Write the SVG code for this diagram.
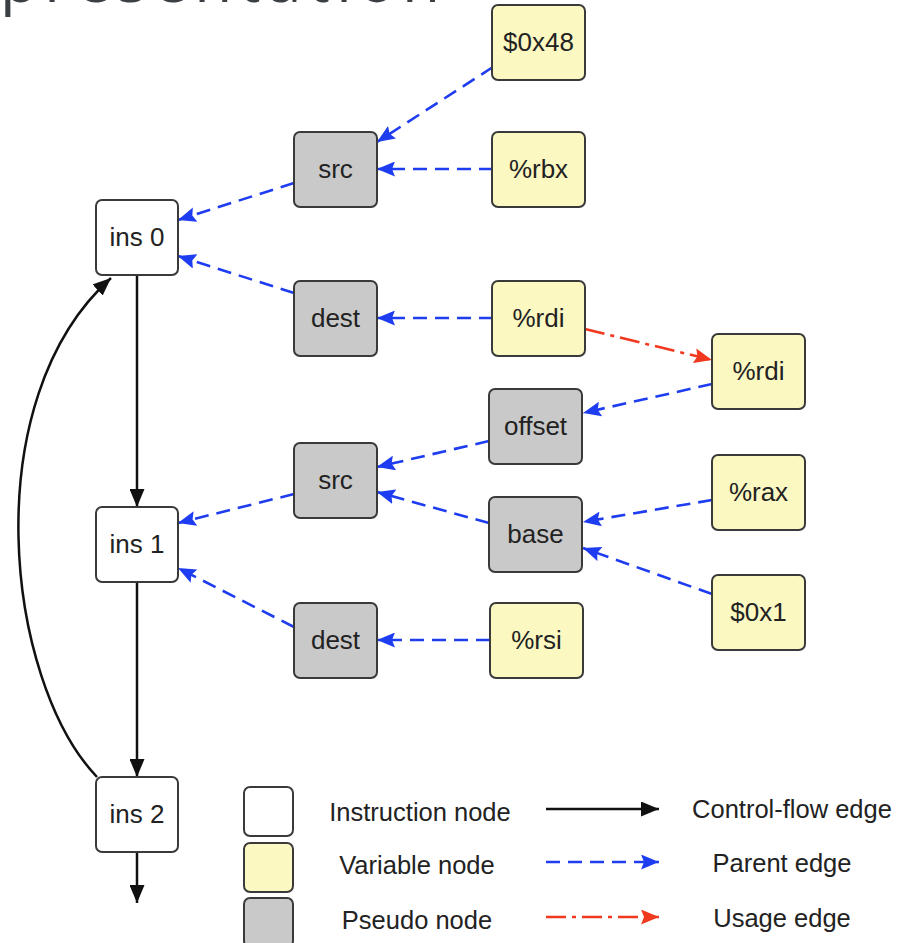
<svg xmlns="http://www.w3.org/2000/svg" width="904" height="943" viewBox="0 0 904 943">
  <defs>
    <style>
      .node rect { stroke: #3a3a3a; stroke-width: 2; }
      .ins rect { fill: #ffffff; }
      .var rect { fill: #fcf8c2; }
      .pse rect { fill: #c9c9c9; }
      .node text, .legend text { font-family: "Liberation Sans", Arial, sans-serif; font-size: 26px; fill: #222222; text-anchor: middle; }
      .legend text { font-size: 25.5px; }
      .cf { stroke: #111111; stroke-width: 2.5; fill: none; }
      .parent { stroke: #1e3cf0; stroke-width: 2.6; fill: none; stroke-dasharray: 14 8; }
      .usage { stroke: #f0391e; stroke-width: 2.6; fill: none; stroke-dasharray: 20 6 4 6; }
      .title { font-family: "Open Sans", "Noto Sans", sans-serif; font-size: 62px; fill: #3b3f44; }
    </style>
    <marker id="ahBlack" markerUnits="userSpaceOnUse" markerWidth="19" markerHeight="15" refX="18" refY="7.5" orient="auto">
      <path d="M0,0 L18,7.5 L0,15 z" fill="#111111"/>
    </marker>
    <marker id="ahBlue" markerUnits="userSpaceOnUse" markerWidth="19" markerHeight="15" refX="18" refY="7.5" orient="auto">
      <path d="M0,0 L18,7.5 L0,15 L3,7.5 z" fill="#1e3cf0"/>
    </marker>
    <marker id="ahRed" markerUnits="userSpaceOnUse" markerWidth="19" markerHeight="15" refX="18" refY="7.5" orient="auto">
      <path d="M0,0 L18,7.5 L0,15 L3,7.5 z" fill="#f0391e"/>
    </marker>
  </defs>

  <rect x="0" y="0" width="904" height="943" fill="#ffffff"/>

  <!-- heading of the slide, mostly above the frame -->
  <text class="title" x="0" y="2" textLength="440" lengthAdjust="spacing">presentation</text>

  <!-- connectors -->
  <g id="edges">
    <!-- control flow -->
    <path class="cf" d="M137 275 L137 507" marker-end="url(#ahBlack)"/>
    <path class="cf" d="M137 582 L137 777" marker-end="url(#ahBlack)"/>
    <path class="cf" d="M137 851 L137 903" marker-end="url(#ahBlack)"/>
    <path class="cf" d="M97 777 C5 680 -25 400 111 278" marker-end="url(#ahBlack)"/>

    <!-- parent edges -->
    <path class="parent" d="M493 67 L377 142" marker-end="url(#ahBlue)"/>
    <path class="parent" d="M493 169 L377 169" marker-end="url(#ahBlue)"/>
    <path class="parent" d="M294 183 L178 220" marker-end="url(#ahBlue)"/>
    <path class="parent" d="M294 293 L178 256" marker-end="url(#ahBlue)"/>
    <path class="parent" d="M493 318 L377 318" marker-end="url(#ahBlue)"/>
    <path class="parent" d="M712 384 L583 413" marker-end="url(#ahBlue)"/>
    <path class="parent" d="M489 441 L377 467" marker-end="url(#ahBlue)"/>
    <path class="parent" d="M489 523 L377 492" marker-end="url(#ahBlue)"/>
    <path class="parent" d="M712 500 L583 522" marker-end="url(#ahBlue)"/>
    <path class="parent" d="M712 594 L583 548" marker-end="url(#ahBlue)"/>
    <path class="parent" d="M294 494 L178 523" marker-end="url(#ahBlue)"/>
    <path class="parent" d="M294 627 L178 568" marker-end="url(#ahBlue)"/>
    <path class="parent" d="M490 640 L377 640" marker-end="url(#ahBlue)"/>

    <!-- usage edge -->
    <path class="usage" d="M585 329 L712 360" marker-end="url(#ahRed)"/>
  </g>

  <!-- instruction nodes -->
  <g id="ins0" class="node ins"><rect x="96" y="200" width="82" height="75" rx="6"/><text x="137" y="246">ins 0</text></g>
  <g id="ins1" class="node ins"><rect x="96" y="507" width="82" height="75" rx="6"/><text x="137" y="553">ins 1</text></g>
  <g id="ins2" class="node ins"><rect x="96" y="777" width="82" height="75" rx="6"/><text x="137" y="823">ins 2</text></g>

  <!-- pseudo nodes -->
  <g id="src0" class="node pse"><rect x="294" y="132" width="83" height="75" rx="6"/><text x="335.5" y="178">src</text></g>
  <g id="dest0" class="node pse"><rect x="294" y="281" width="83" height="75" rx="6"/><text x="335.5" y="327">dest</text></g>
  <g id="offset" class="node pse"><rect x="489" y="389" width="93" height="75" rx="6"/><text x="535.5" y="435">offset</text></g>
  <g id="src1" class="node pse"><rect x="294" y="443" width="83" height="75" rx="6"/><text x="335.5" y="489">src</text></g>
  <g id="base" class="node pse"><rect x="489" y="497" width="93" height="75" rx="6"/><text x="535.5" y="543">base</text></g>
  <g id="dest1" class="node pse"><rect x="294" y="603" width="83" height="75" rx="6"/><text x="335.5" y="649">dest</text></g>

  <!-- variable nodes -->
  <g id="imm48" class="node var"><rect x="492" y="5" width="93" height="75" rx="6"/><text x="538.5" y="51">$0x48</text></g>
  <g id="rbx" class="node var"><rect x="492" y="132" width="93" height="75" rx="6"/><text x="538.5" y="178">%rbx</text></g>
  <g id="rdi0" class="node var"><rect x="492" y="281" width="93" height="75" rx="6"/><text x="538.5" y="327">%rdi</text></g>
  <g id="rdi1" class="node var"><rect x="712" y="334" width="93" height="75" rx="6"/><text x="758.5" y="380">%rdi</text></g>
  <g id="rax" class="node var"><rect x="712" y="455" width="93" height="75" rx="6"/><text x="758.5" y="501">%rax</text></g>
  <g id="imm1" class="node var"><rect x="712" y="575" width="93" height="75" rx="6"/><text x="758.5" y="621">$0x1</text></g>
  <g id="rsi" class="node var"><rect x="490" y="603" width="93" height="75" rx="6"/><text x="536.5" y="649">%rsi</text></g>

  <!-- legend -->
  <g id="legend" class="legend">
    <g class="node ins"><rect x="244" y="787" width="49" height="49" rx="6"/></g>
    <g class="node var"><rect x="244" y="843" width="49" height="49" rx="6"/></g>
    <g class="node pse"><rect x="244" y="898" width="49" height="49" rx="6"/></g>
    <text x="420" y="821">Instruction node</text>
    <text x="417" y="874">Variable node</text>
    <text x="417" y="929">Pseudo node</text>
    <path class="cf" d="M546 809 L659 809" marker-end="url(#ahBlack)"/>
    <path class="parent" d="M546 862 L659 862" stroke-dasharray="12 8" marker-end="url(#ahBlue)"/>
    <path class="usage" d="M546 917 L659 917" stroke-dasharray="30 8 5 8" marker-end="url(#ahRed)"/>
    <text x="792" y="818">Control-flow edge</text>
    <text x="782" y="872">Parent edge</text>
    <text x="782" y="927">Usage edge</text>
  </g>
</svg>
